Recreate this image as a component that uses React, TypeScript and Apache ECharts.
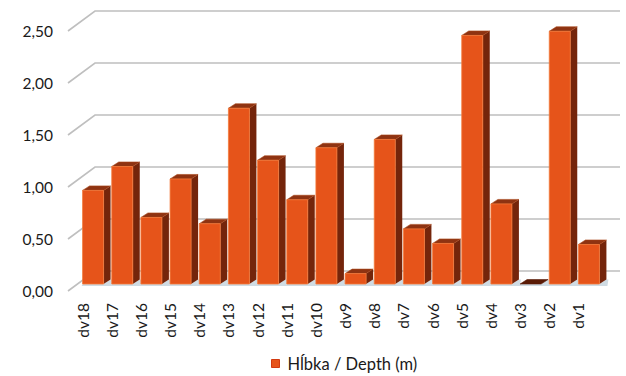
import React, { useEffect, useRef } from "react";
import * as echarts from "echarts";

// Well depths in metres, listed left to right as plotted
const categories = [
  "dv18", "dv17", "dv16", "dv15", "dv14", "dv13", "dv12", "dv11", "dv10",
  "dv9", "dv8", "dv7", "dv6", "dv5", "dv4", "dv3", "dv2", "dv1",
];
const depths = [
  0.9, 1.13, 0.64, 1.01, 0.58, 1.69, 1.19, 0.81, 1.31,
  0.1, 1.39, 0.53, 0.39, 2.39, 0.77, 0.0, 2.43, 0.38,
];
const gridValues = [0, 0.5, 1, 1.5, 2, 2.5];
const seriesName = "Hĺbka / Depth (m)";

// pseudo-3D geometry
const WALL_DX = 27;
const WALL_DY = -20;
const BAR_SHIFT_X = 0;
const BAR_SHIFT_Y = -7;
const BAR_W = 21;
const BAR_DX = 7;
const BAR_DY = -4.5;

const FRONT = "#E6541A";
const FRONT_EDGE = "#F47A3A";
const SIDE = "#74250B";
const TOP = "#8E3312";
const TEXT = "#1A1A1A";

export default function App() {
  const ref = useRef<HTMLDivElement>(null);

  useEffect(() => {
    if (!ref.current) return;
    const chart = echarts.init(ref.current, null, { renderer: "svg" });

    const gridRender = (params: any, api: any) => {
      const cs = params.coordSys;
      const v = api.value(1);
      const p = api.coord([0, v]);
      const y = p[1];
      const xl = cs.x;
      const xr = cs.x + cs.width;
      return {
        type: "polyline",
        shape: {
          points: [
            [xl, y],
            [xl + WALL_DX, y + WALL_DY],
            [xr + WALL_DX, y + WALL_DY],
          ],
        },
        style: { stroke: "#BFBFBF", lineWidth: 1.6, fill: "none" },
      };
    };

    const barRender = (params: any, api: any) => {
      const i = api.value(0);
      const v = api.value(1);
      const base = api.coord([i, 0]);
      const top = api.coord([i, v]);
      const x0 = base[0] + BAR_SHIFT_X;
      const x1 = x0 + BAR_W;
      const yb = base[1] + BAR_SHIFT_Y;
      const yt = top[1] + BAR_SHIFT_Y;
      const zero = v <= 0;
      return {
        type: "group",
        children: [
          {
            type: "polygon",
            shape: {
              points: [
                [x0 - 1, yb + 2],
                [x1 + BAR_DX + 1, yb + 2],
                [x1 + BAR_DX + 2, yb + BAR_DY],
                [x1 + BAR_DX, yb + BAR_DY],
                [x1, yb],
                [x0, yb],
              ],
            },
            style: { fill: "#CFDBE3" },
          },
          {
            type: "polygon",
            shape: {
              points: [
                [x1, yt],
                [x1 + BAR_DX, yt + BAR_DY],
                [x1 + BAR_DX, yb + BAR_DY],
                [x1, yb],
              ],
            },
            style: { fill: SIDE },
          },
          {
            type: "polygon",
            shape: {
              points: [
                [x0, yt],
                [x0 + BAR_DX, yt + BAR_DY],
                [x1 + BAR_DX, yt + BAR_DY],
                [x1, yt],
              ],
            },
            style: {
              fill: zero ? "#5A1B06" : TOP,
              stroke: zero ? "#5A1B06" : "#A84418",
              lineWidth: 0.6,
            },
          },
          {
            type: "rect",
            shape: { x: x0, y: yt, width: BAR_W, height: yb - yt },
            style: {
              fill: FRONT,
              stroke: zero ? "none" : FRONT_EDGE,
              lineWidth: 0.8,
            },
          },
        ],
      };
    };

    chart.setOption({
      animation: false,
      backgroundColor: "#FFFFFF",
      grid: { left: 68, right: 33, top: 31, bottom: 85, containLabel: false },
      legend: {
        data: [seriesName],
        left: 266,
        top: 350,
        icon: "rect",
        itemWidth: 8,
        itemHeight: 8,
        itemStyle: { color: FRONT, borderColor: "#D23A10", borderWidth: 1 },
        textStyle: {
          fontFamily: "Lato",
          fontSize: 16.5,
          color: TEXT,
          padding: [0, 0, 0, 3],
        },
      },
      xAxis: {
        type: "category",
        data: categories,
        axisLine: { show: false },
        axisTick: { show: false },
        axisLabel: {
          rotate: 90,
          margin: 12,
          fontFamily: "Lato",
          fontSize: 15.5,
          color: TEXT,
          interval: 0,
        },
        splitLine: { show: false },
      },
      yAxis: {
        type: "value",
        min: 0,
        max: 2.5,
        interval: 0.5,
        axisLine: { show: false },
        axisTick: { show: false },
        splitLine: { show: false },
        axisLabel: {
          margin: 15,
          fontFamily: "Lato",
          fontSize: 15.5,
          color: TEXT,
          formatter: (v: number) => v.toFixed(2).replace(".", ","),
        },
      },
      series: [
        {
          type: "custom",
          name: "grid",
          silent: true,
          clip: false,
          z: 1,
          renderItem: gridRender,
          data: gridValues.map((v) => [0, v]),
        },
        {
          type: "custom",
          name: seriesName,
          clip: false,
          z: 2,
          itemStyle: { color: FRONT },
          renderItem: barRender,
          data: depths.map((v, i) => [i, v]),
        },
      ],
    });

    return () => chart.dispose();
  }, []);

  return (
    <div
      ref={ref}
      style={{ position: "fixed", left: 0, top: 0, width: 626, height: 376 }}
    />
  );
}
